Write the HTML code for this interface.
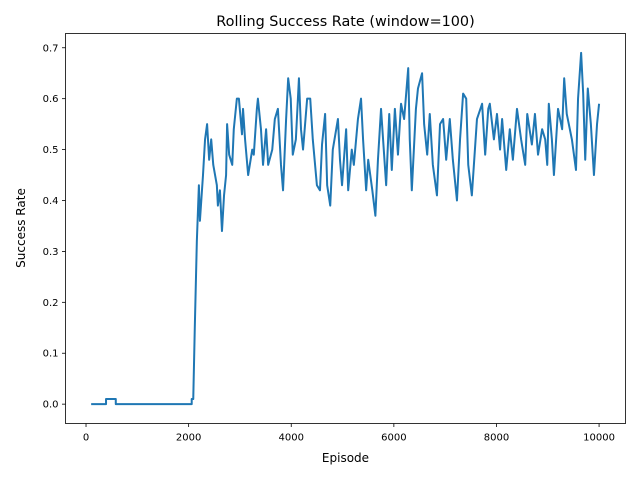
<!DOCTYPE html>
<html><head><meta charset="utf-8"><style>
body{margin:0;background:#fff;}
svg text{font-family:"DejaVu Sans","Liberation Sans",sans-serif;fill:#000;}
</style></head><body>
<svg id="chart" width="640" height="480" viewBox="0 0 640 480" xmlns="http://www.w3.org/2000/svg">
<rect width="640" height="480" fill="#fff"/>
<text x="345.5" y="26" font-size="14.4" text-anchor="middle">Rolling Success Rate (window=100)</text>
<g id="plot"></g>
<rect x="65.5" y="33.5" width="560" height="390" fill="none" stroke="#000" stroke-width="0.8"/>
<text x="345.5" y="462" font-size="12" text-anchor="middle">Episode</text>
<text transform="translate(25,228) rotate(-90)" font-size="12" text-anchor="middle">Success Rate</text>
</svg>
<script>
const episodes=[100,390,390,580,580,2060,2060,2090,2120,2160,2200,2220,2260,2280,2320,2360,2400,2440,2480,2550,2570,2610,2650,2690,2730,2750,2790,2850,2880,2940,2980,3040,3060,3100,3160,3240,3270,3330,3350,3410,3450,3510,3550,3630,3680,3740,3800,3840,3900,3940,3990,4030,4090,4150,4190,4230,4310,4370,4420,4500,4560,4600,4660,4700,4760,4810,4910,4950,4990,5070,5110,5180,5220,5300,5360,5400,5460,5500,5580,5640,5690,5750,5790,5850,5910,5960,6020,6080,6140,6200,6280,6310,6350,6430,6470,6550,6590,6650,6700,6760,6840,6900,6960,7020,7090,7150,7230,7290,7350,7410,7450,7520,7620,7720,7780,7840,7870,7950,8010,8070,8110,8190,8260,8320,8400,8480,8560,8600,8690,8750,8810,8890,8950,8990,9020,9080,9120,9200,9280,9320,9370,9470,9550,9590,9650,9690,9730,9780,9840,9900,9960,10000];
const successRates=[0,0,0.01,0.01,0,0,0.01,0.01,0.15,0.32,0.43,0.36,0.42,0.45,0.52,0.55,0.48,0.52,0.47,0.43,0.39,0.42,0.34,0.41,0.45,0.55,0.49,0.47,0.54,0.60,0.60,0.53,0.58,0.52,0.45,0.50,0.49,0.58,0.60,0.54,0.47,0.54,0.47,0.50,0.56,0.58,0.47,0.42,0.56,0.64,0.60,0.49,0.52,0.64,0.54,0.50,0.60,0.60,0.52,0.43,0.42,0.51,0.57,0.43,0.39,0.50,0.56,0.48,0.43,0.54,0.42,0.50,0.47,0.56,0.60,0.52,0.42,0.48,0.42,0.37,0.48,0.58,0.52,0.43,0.57,0.46,0.58,0.49,0.59,0.56,0.66,0.52,0.42,0.58,0.62,0.65,0.55,0.49,0.57,0.47,0.41,0.55,0.56,0.48,0.56,0.48,0.40,0.52,0.61,0.60,0.47,0.41,0.56,0.59,0.49,0.58,0.59,0.52,0.57,0.50,0.56,0.46,0.54,0.48,0.58,0.52,0.47,0.57,0.51,0.57,0.49,0.54,0.52,0.47,0.59,0.52,0.45,0.58,0.54,0.64,0.57,0.52,0.46,0.60,0.69,0.61,0.48,0.62,0.55,0.45,0.55,0.59];
const xTicks=[0,2000,4000,6000,8000,10000];
const yTicks=[0.0,0.1,0.2,0.3,0.4,0.5,0.6,0.7];
const L=65.5,R=625.5,T=33.5,B=423.5;
const xMin=-400,xMax=10515,yMin=-0.038,yMax=0.728;
function xs(v){return L+(v-xMin)/(xMax-xMin)*(R-L);}
function ys(v){return B-(v-yMin)/(yMax-yMin)*(B-T);}
const NS="http://www.w3.org/2000/svg";
const svg=document.getElementById('chart');
const plot=document.getElementById('plot');
xTicks.forEach(t=>{
  const l=document.createElementNS(NS,'line');
  l.setAttribute('x1',xs(t));l.setAttribute('x2',xs(t));l.setAttribute('y1',B);l.setAttribute('y2',B+3.5);
  l.setAttribute('stroke','#000');l.setAttribute('stroke-width','0.8');
  
  
  svg.appendChild(l);
  const tx=document.createElementNS(NS,'text');
  tx.setAttribute('x',xs(t));tx.setAttribute('y',B+17);tx.setAttribute('font-size','10');tx.setAttribute('text-anchor','middle');
  tx.textContent=String(t);
  
  
  svg.appendChild(tx);
});
yTicks.forEach(t=>{
  const l=document.createElementNS(NS,'line');
  l.setAttribute('x1',L-3.5);l.setAttribute('x2',L);l.setAttribute('y1',ys(t));l.setAttribute('y2',ys(t));
  l.setAttribute('stroke','#000');l.setAttribute('stroke-width','0.8');
  
  
  svg.appendChild(l);
  const tx=document.createElementNS(NS,'text');
  tx.setAttribute('x',L-7);tx.setAttribute('y',ys(t)+3.5);tx.setAttribute('font-size','10');tx.setAttribute('text-anchor','end');
  tx.textContent=t.toFixed(1);
  
  
  svg.appendChild(tx);
});
const pts=episodes.map((e,i)=>xs(e).toFixed(2)+','+ys(successRates[i]).toFixed(2));
const pl=document.createElementNS(NS,'polyline');
pl.setAttribute('points',pts.join(' '));
pl.setAttribute('fill','none');pl.setAttribute('stroke','#1f77b4');pl.setAttribute('stroke-width','2');pl.setAttribute('stroke-linejoin','round');


plot.appendChild(pl);
</script>
</body></html>
